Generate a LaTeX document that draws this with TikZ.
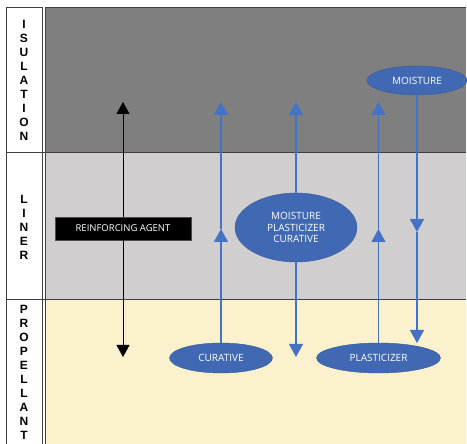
\documentclass[tikz,border=0pt]{standalone}
\usepackage{fontspec}
\setmainfont{Open Sans}
\newfontfamily\letterfont{Liberation Sans}
\usetikzlibrary{arrows.meta, positioning, shapes.geometric}

\definecolor{insgray}{HTML}{7F7F7F}
\definecolor{linergray}{HTML}{D0CECE}
\definecolor{propyellow}{HTML}{FBF1CD}
\definecolor{flowblue}{HTML}{4472C4}
\definecolor{ellblue}{HTML}{4169B3}

\tikzset{
	layerline/.style={draw=black!75, line width=1pt},
	letters/.style={align=center, font=\letterfont\bfseries\fontsize{12}{14}\selectfont, text=black},
	agent/.style={ellipse, fill=ellblue, draw=ellblue!85!black, text=white, inner sep=0pt, align=center, font=\fontsize{10}{11.7}\selectfont},
	agentbox/.style={rectangle, fill=black, draw=black!70, text=white, inner sep=0pt, minimum width=136, minimum height=23, font=\fontsize{9.5}{11}\selectfont},
	flow/.style={draw=flowblue, line width=1.2pt, -{Triangle[width=14pt, length=13pt]}},
	blackflow/.style={draw=black, line width=1pt, -{Triangle[width=13pt, length=12pt]}},
}

\begin{document}
\begin{tikzpicture}[x=1pt, y=-1pt]

	\useasboundingbox (0,0) rectangle (467,444);

	% Dimensions
	\def\colL{6}
	\def\colR{42}
	\def\areaL{45}
	\def\areaR{466}
	\def\bandtop{8}
	\def\bandA{153}
	\def\bandB{300}
	\def\bandbot{446}

	% Layers
	\fill[insgray] (\areaL, \bandtop) rectangle (\areaR, \bandA);
	\fill[linergray] (\areaL, \bandA) rectangle (\areaR, \bandB);
	\fill[propyellow] (\areaL, \bandB) rectangle (\areaR, \bandbot);
	\draw[layerline] (\areaL, \bandbot) -- (\areaL, \bandtop) -- (\areaR, \bandtop);

	% Label column
	\draw[layerline, fill=white] (\colL, \bandtop) rectangle (\colR, \bandbot);
	\draw[layerline] (\colL, \bandA) -- (\areaR, \bandA);
	\draw[layerline] (\colL, \bandB) -- (\areaR, \bandB);
	\node[letters] (insulation) at (24, 80.5) {I\\S\\U\\L\\A\\T\\I\\O\\N};
	\node[letters] (liner) at (24, 227) {L\\I\\N\\E\\R};
	\node[letters] (propellant) at (24, 372) {P\\R\\O\\P\\E\\L\\L\\A\\N\\T};

	% Reinforcing agent
	\node[agentbox] (reinforcing) at (123, 228.5) {REINFORCING AGENT};
	\coordinate (raTop) at (123, 102);
	\coordinate (raBot) at (123, 357);
	\draw[blackflow] (reinforcing) -- (raTop);
	\draw[blackflow] (reinforcing) -- (raBot);

	% Migrating ingredients
	\node[agent, minimum width=103, minimum height=30] (curative) at (221, 358) {CURATIVE};
	\node[agent, minimum width=124, minimum height=30] (plasticizer) at (378.5, 358) {PLASTICIZER};
	\node[agent, minimum width=122, minimum height=69] (mixture) at (296, 227.5) {MOISTURE\\PLASTICIZER\\CURATIVE};
	\node[agent, minimum width=100, minimum height=29] (moisture) at (417, 80.5) {MOISTURE};

	% Curative path
	\coordinate (curMid) at (221, 229);
	\coordinate (curTop) at (221, 102);
	\draw[flow] (curative) -- (curMid);
	\draw[flow] (curMid) -- (curTop);

	% Mixture path
	\coordinate (mixTop) at (296, 102);
	\coordinate (mixBot) at (296, 357);
	\draw[flow] (mixture) -- (mixTop);
	\draw[flow] (mixture) -- (mixBot);

	% Plasticizer path
	\coordinate (plaMid) at (378.5, 229);
	\coordinate (plaTop) at (378.5, 102);
	\draw[flow] (plasticizer) -- (plaMid);
	\draw[flow] (plaMid) -- (plaTop);

	% Moisture path
	\coordinate (moiMid) at (417, 232);
	\coordinate (moiBot) at (417, 343);
	\draw[flow] (moisture) -- (moiMid);
	\draw[flow] (moiMid) -- (moiBot);

\end{tikzpicture}
\end{document}
